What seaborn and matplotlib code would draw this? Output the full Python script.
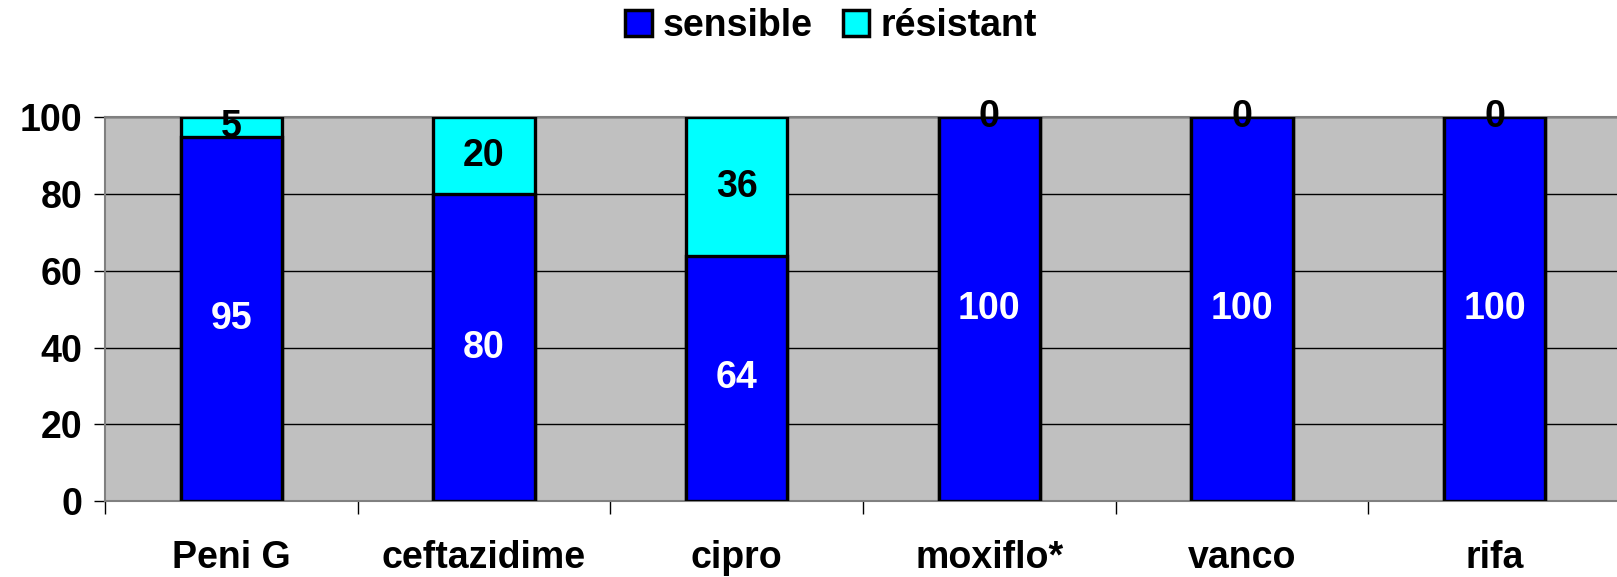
import numpy as np
import pandas as pd
import matplotlib
matplotlib.use("Agg")
import matplotlib.pyplot as plt
from matplotlib.patches import Patch
import seaborn as sns

categories = ["Peni G", "ceftazidime", "cipro", "moxiflo*", "vanco", "rifa"]
sensible = [95, 80, 64, 100, 100, 100]
resistant = [5, 20, 36, 0, 0, 0]
y_ticks = [0, 20, 40, 60, 80, 100]

BLUE = "#0000FF"
CYAN = "#00FFFF"
GREY_BG = "#C0C0C0"

sns.set_theme(style="white")
plt.rcParams["font.family"] = ["Liberation Sans", "DejaVu Sans"]
plt.rcParams["font.weight"] = "bold"
plt.rcParams["text.color"] = "black"
plt.rcParams["xtick.color"] = "black"
plt.rcParams["ytick.color"] = "black"
plt.rcParams["xtick.labelcolor"] = "black"
plt.rcParams["ytick.labelcolor"] = "black"

df = pd.DataFrame({
    "drug": categories,
    "sensible": sensible,
    "resistant": resistant,
})
df["total"] = df["sensible"] + df["resistant"]

fig = plt.figure(figsize=(16.17, 5.77), dpi=100)
ax = fig.add_axes([0.0649, 0.1317, 0.9376, 0.6647])
ax.set_facecolor(GREY_BG)
ax.set_axisbelow(True)

# stacked bars: full height in cyan, sensible portion in blue over it
sns.barplot(data=df, x="drug", y="total", color=CYAN, width=0.4,
            edgecolor="black", linewidth=2.4, saturation=1, ax=ax, zorder=3)
sns.barplot(data=df, x="drug", y="sensible", color=BLUE, width=0.4,
            edgecolor="black", linewidth=2.4, saturation=1, ax=ax, zorder=4)

ax.set_xlim(-0.5, len(categories) - 0.5)
ax.set_ylim(0, 100)
ax.set_yticks(y_ticks)
ax.yaxis.grid(True, color="black", linewidth=1.0)
ax.xaxis.grid(False)
ax.set_xlabel("")
ax.set_ylabel("")

for s in ["left", "bottom", "top"]:
    ax.spines[s].set_color("#808080")
    ax.spines[s].set_linewidth(1.5)
ax.spines["right"].set_visible(False)

ax.tick_params(axis="y", which="major", direction="out", length=8, width=1,
               color="black", labelsize=27, pad=8, left=True)
ax.tick_params(axis="x", which="major", length=0, labelsize=27, pad=28)
ax.set_xticks(np.arange(-0.5, len(categories)), minor=True)
ax.tick_params(axis="x", which="minor", direction="out", length=9, width=1,
               color="black", bottom=True)
for lbl in ax.get_xticklabels() + ax.get_yticklabels():
    lbl.set_fontweight("bold")
    lbl.set_color("black")

# value labels
for i, (s, r) in enumerate(zip(sensible, resistant)):
    ax.text(i, s / 2, f"{s}", ha="center", va="center", color="white",
            fontsize=27, fontweight="bold", zorder=6)
    ax.text(i, s + r / 2, f"{r}", ha="center", va="center", color="black",
            fontsize=27, fontweight="bold", zorder=6)

handles = [Patch(facecolor=BLUE, edgecolor="black", linewidth=2.5),
           Patch(facecolor=CYAN, edgecolor="black", linewidth=2.5)]
fig.legend(handles, ["sensible", "résistant"], loc="center",
           bbox_to_anchor=(0.514, 0.955), ncol=2, frameon=False,
           prop={"size": 27, "weight": "bold"}, handlelength=0.7,
           handleheight=0.7, handletextpad=0.3, columnspacing=0.8)

fig.savefig("out.png", dpi=100, facecolor="white")
